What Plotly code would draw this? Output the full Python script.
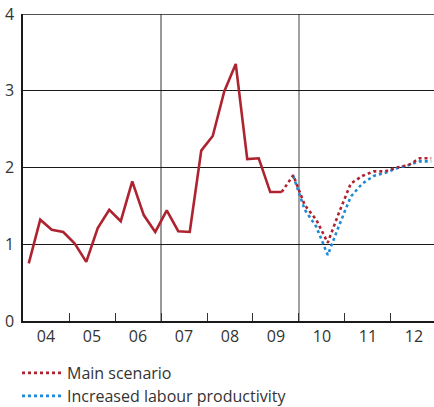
import plotly.graph_objects as go

def qx(year, q):
    return year + (q - 0.5) / 4.0

# Historical (2004Q1 - 2009Q3)
hist_values = [0.75, 1.32, 1.19, 1.16, 1.01, 0.77, 1.21, 1.45, 1.30, 1.82, 1.38, 1.16,
               1.44, 1.17, 1.16, 2.22, 2.41, 2.99, 3.35, 2.11, 2.12, 1.68, 1.68]
# Main scenario (2009Q3 - 2012Q4)
main_values = [1.68, 1.90, 1.51, 1.32, 1.02, 1.42, 1.79, 1.89, 1.95, 1.95, 2.00, 2.03, 2.12, 2.12]
# Increased labour productivity (2009Q4 - 2012Q4)
prod_values = [1.89, 1.45, 1.23, 0.86, 1.25, 1.62, 1.79, 1.89, 1.93, 1.99, 2.03, 2.08, 2.08]

year_labels = ["04", "05", "06", "07", "08", "09", "10", "11", "12"]
years = list(range(2004, 2013))

hist_x = [qx(2004 + i // 4, i % 4 + 1) for i in range(len(hist_values))]
main_x = [qx(2009 + (i + 2) // 4, (i + 2) % 4 + 1) for i in range(len(main_values))]
prod_x = [qx(2009 + (i + 3) // 4, (i + 3) % 4 + 1) for i in range(len(prod_values))]

RED = "#ad2430"
BLUE = "#1e8ad6"
W, H = 434, 407

fig = go.Figure()
fig.add_trace(go.Scatter(x=hist_x, y=hist_values, mode="lines",
                         line=dict(color=RED, width=2.6), showlegend=False, hoverinfo="skip"))
fig.add_trace(go.Scatter(x=prod_x, y=prod_values, mode="lines", name="Increased labour productivity",
                         line=dict(color=BLUE, width=2.6, dash="dot"), legend="legend2"))
fig.add_trace(go.Scatter(x=main_x, y=main_values, mode="lines", name="Main scenario",
                         line=dict(color=RED, width=2.6, dash="dot"), legend="legend"))

for xv, col, w in [(2007, "#555555", 1.2), (2010, "#8a8a8a", 1.6)]:
    fig.add_shape(type="line", xref="x", yref="y", x0=xv, x1=xv, y0=0, y1=4,
                  line=dict(color=col, width=w), layer="below")
fig.add_shape(type="line", xref="paper", yref="y", x0=0, x1=1, y0=4, y1=4,
              line=dict(color="#1a1a1a", width=1.5), layer="above")

leg_common = dict(xref="container", yref="container", x=17 / W, xanchor="left", yanchor="middle",
                  font=dict(size=16, color="#333333"), itemwidth=40,
                  bgcolor="rgba(0,0,0,0)", borderwidth=0)

fig.update_layout(
    width=W, height=H,
    margin=dict(l=23, r=0, t=14, b=86, autoexpand=False),
    plot_bgcolor="white", paper_bgcolor="white",
    font=dict(family="Open Sans", size=16, color="#333333"),
    legend=dict(y=1 - 373 / H, **leg_common),
    legend2=dict(y=1 - 396 / H, **leg_common),
    xaxis=dict(range=[2004, 2012.935], tickvals=[y + 0.5 for y in years], ticktext=year_labels,
               ticks="", showgrid=False, showline=True, linecolor="#1a1a1a", linewidth=2,
               zeroline=False, tickfont=dict(size=16, color="#333333"), automargin=False,
               minor=dict(tickvals=[y for y in range(2005, 2013)], ticks="inside", ticklen=8,
                          tickcolor="#333333", tickwidth=1.2, showgrid=False)),
    yaxis=dict(range=[0, 4], tickvals=[0, 1, 2, 3, 4], ticks="", showgrid=True,
               gridcolor="#1a1a1a", gridwidth=1.3, showline=True, linecolor="#1a1a1a",
               linewidth=1.5, zeroline=False, tickfont=dict(size=16, color="#333333"),
               ticklabelstandoff=4, automargin=False),
)

fig.write_html("out.html", config={"displayModeBar": False},
               post_script="document.body.style.margin='0';document.body.style.overflow='hidden';")
